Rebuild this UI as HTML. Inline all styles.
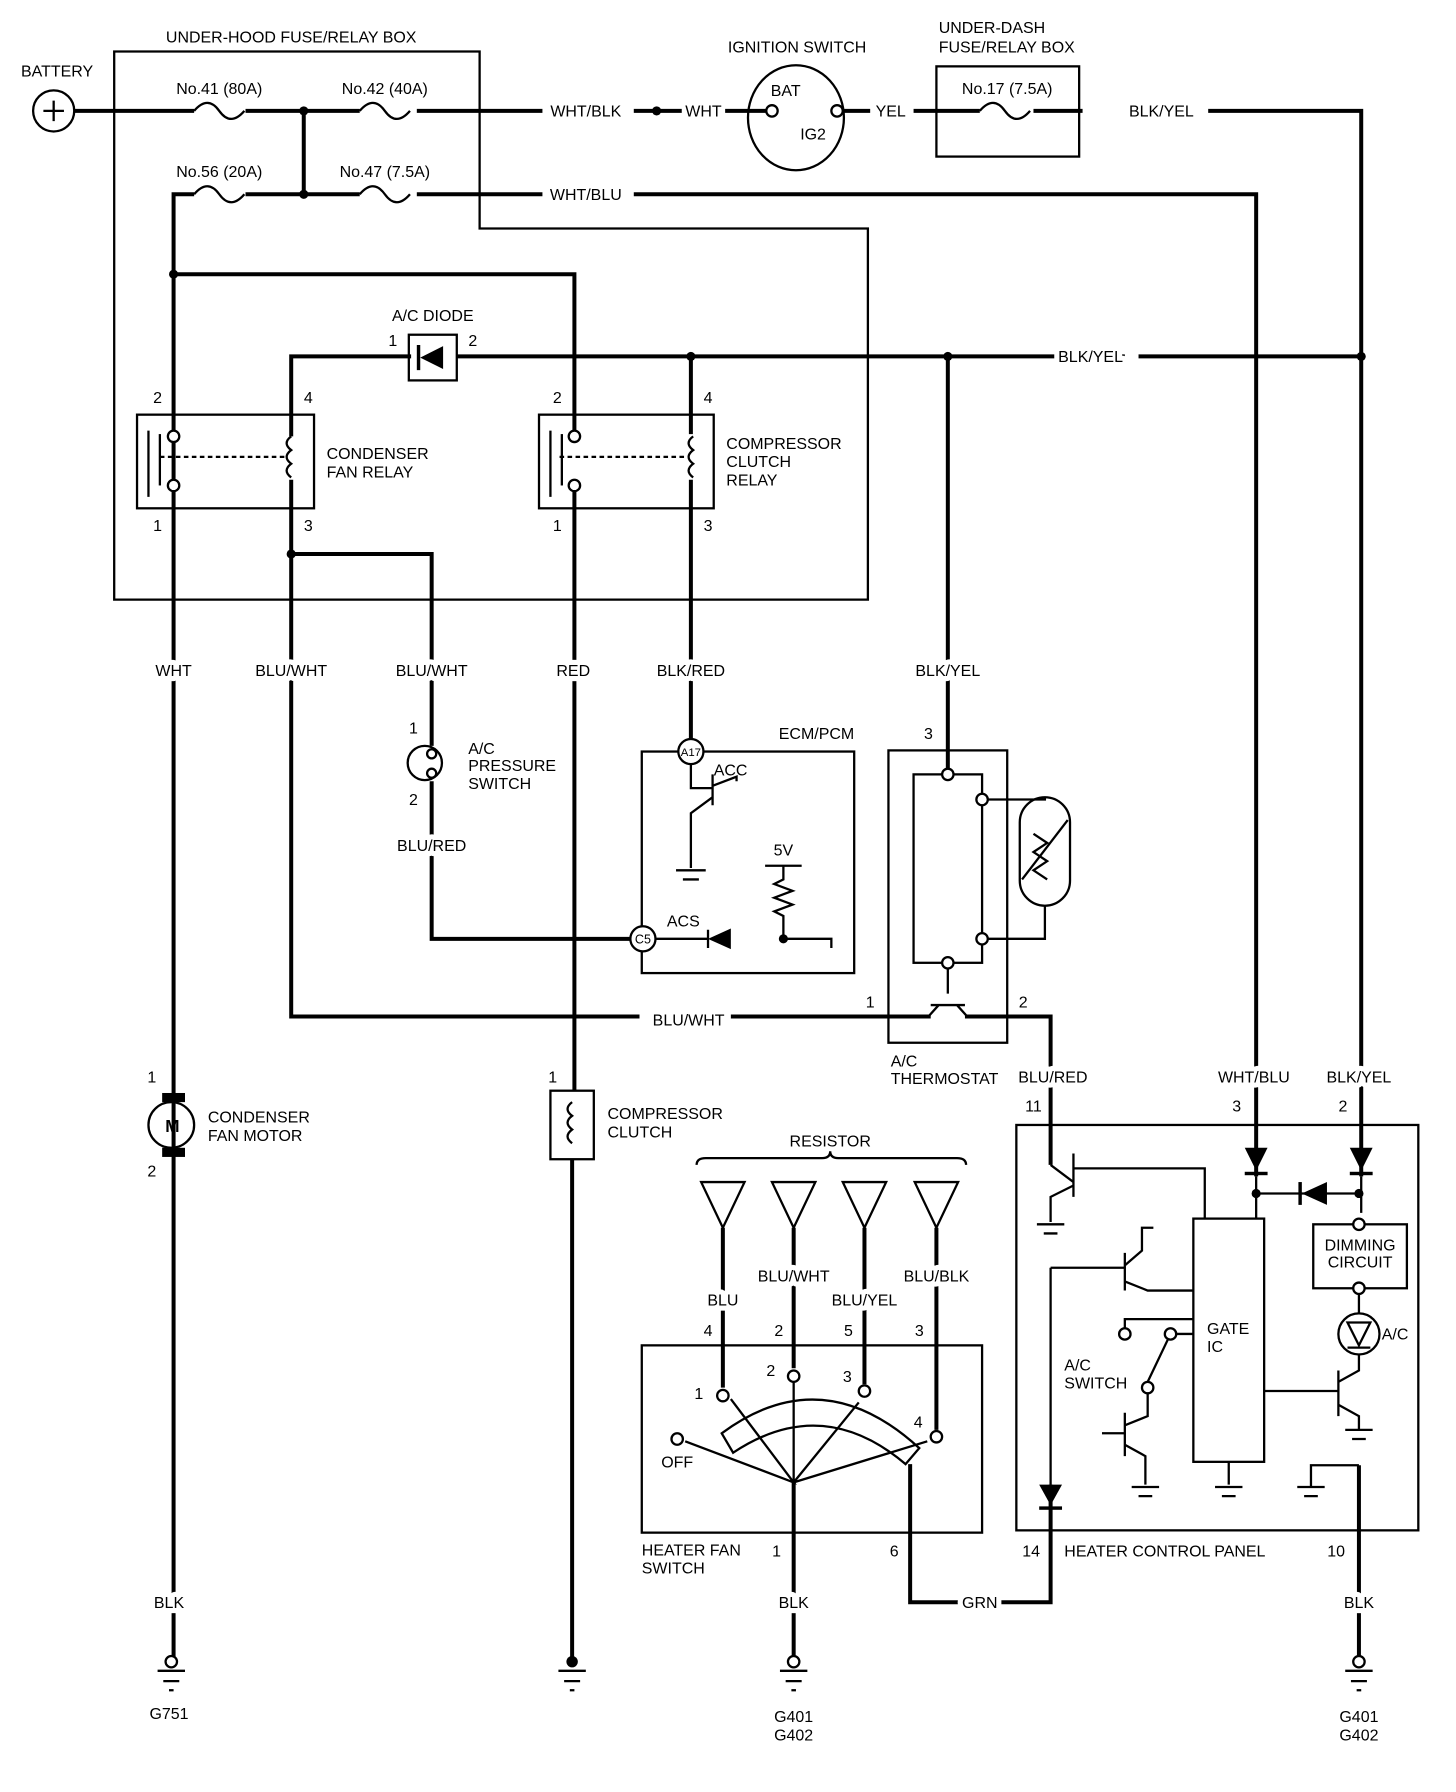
<!DOCTYPE html>
<html><head><meta charset="utf-8"><style>
html,body{margin:0;padding:0;background:#fff}
svg{display:block}
text{font-family:"Liberation Sans",sans-serif;font-size:14px;fill:#000}
.w{paint-order:stroke;stroke:#fff;stroke-width:9px;stroke-linejoin:round}
</style></head><body>
<svg width="1456" height="1792" viewBox="0 0 1275 1569" xmlns="http://www.w3.org/2000/svg">
<defs>
<g id="gnd"><line x1="-12" y1="8" x2="12" y2="8" stroke="#000" stroke-width="2"/><line x1="-7" y1="17" x2="7" y2="17" stroke="#000" stroke-width="2"/><line x1="-2" y1="25" x2="2" y2="25" stroke="#000" stroke-width="2"/></g>
</defs>
<g fill="none" stroke="#000" stroke-width="2">
<path d="M100 45 H420 V200 H760 V525 H100 Z"/>
<rect x="820" y="58" width="125" height="79"/>
<ellipse cx="697" cy="103" rx="42" ry="46"/>
<circle cx="47" cy="97" r="18"/>
<rect x="120" y="363" width="155" height="82"/>
<rect x="472" y="363" width="153" height="82"/>
<line x1="140" y1="400" x2="250" y2="400" stroke-dasharray="4 3"/>
<line x1="490" y1="400" x2="600" y2="400" stroke-dasharray="4 3"/>
<rect x="562" y="658" width="186" height="194"/>
<rect x="778" y="657" width="104" height="256"/>
<rect x="800" y="678" width="60" height="165"/>
<rect x="893" y="698" width="44" height="95" rx="22"/>
<rect x="562" y="1178" width="298" height="164"/>
<rect x="890" y="985" width="352" height="355"/>
<rect x="1045" y="1067" width="62" height="213"/>
<rect x="1150" y="1072" width="82" height="56"/>
<rect x="482" y="955" width="38" height="60"/>
</g>
<g fill="none" stroke="#000" stroke-width="3.5">
<path d="M65 97 H170 M215 97 H315 M365 97 H475"/>
<path d="M266 97 V170"/>
<path d="M152 1455 V170 H170 M215 170 H315 M365 170 H475"/>
<path d="M555 97 H597 M635 97 H676 M738 97 H762 M800 97 H858 M905 97 H948"/>
<path d="M1058 97 H1192 V1030"/>
<path d="M555 170 H1100 V1030"/>
<path d="M152 240 H503 V382"/>
<path d="M503 425 V955 M501 1015 V1455"/>
<path d="M255 382 V312 H360 M400 312 H985 M997 312 H1192"/>
<path d="M830 312 V678"/>
<path d="M605 312 V380 M605 420 V647"/>
<path d="M255 420 V890 H560 M640 890 H815"/>
<path d="M255 485 H378 V653 M378 684 V822 H552"/>
<path d="M845 890 H920 V1020"/>
<path d="M633 1075 V1215 M695 1075 V1198 M757 1075 V1212 M820 1075 V1252"/>
<path d="M695 1298 V1455"/>
<path d="M797 1282 V1403 H920 V1300"/>
<path d="M1190 1283 V1455"/>
</g>
<g fill="none" stroke="#000" stroke-width="2">
<path d="M170 97 q12 -14 22 0 t22 0 M315 97 q12 -14 22 0 t22 0 M170 170 q12 -14 22 0 t22 0 M315 170 q12 -14 22 0 t22 0 M858 97 q12 -14 22 0 t22 0"/>
<path d="M38 97 H56 M47 88 V106"/>
<line x1="130" y1="377" x2="130" y2="435"/>
<line x1="140" y1="380" x2="140" y2="425"/>
<line x1="482" y1="377" x2="482" y2="435"/>
<line x1="492" y1="380" x2="492" y2="425"/>
<path d="M255 382 q-8 6 0 12 q-8 6 0 12 q-8 6 0 12 M607 382 q-8 6 0 12 q-8 6 0 12 q-8 6 0 12"/>
<rect x="358" y="293" width="42" height="40"/>
<path d="M605 669 V690 H624 M624 678 V705 M624 688 L645 680 L645 684 M624 698 L605 712 V760"/>
<path d="M592 762 H618 M598 770 H612"/>
<path d="M686 758 V770 l-8 4 l16 6 l-16 6 l16 6 l-16 6 l8 4 V822 H728 V830 M670 758 H702"/>
<path d="M574 822 H620 M620 814 V830"/>
<path d="M860 700 H915 V698 M860 822 H915 V793"/>
<path d="M830 843 V870 M815 880 H845 M822 880 L813 890 M838 880 L847 890"/>
<path d="M895 770 L935 718"/>
<path d="M905 730 l12 8 l-12 8 l12 8 l-12 8 l12 8"/>
<circle cx="150" cy="985" r="20"/>
<path d="M501 965 q-8 6 0 12 q-8 6 0 12 q-8 6 0 12"/>
<path d="M610 1020 q0 -6 8 -6 H720 q7 0 7 -6 q0 6 7 6 H838 q8 0 8 6"/>
<path d="M614 1035 H652 L633 1075 Z M676 1035 H714 L695 1075 Z M738 1035 H776 L757 1075 Z M801 1035 H839 L820 1075 Z"/>
<path d="M600 1262 L695 1298 L640 1225 M695 1298 V1208 M695 1298 L752 1228 M695 1298 L812 1262"/>
<path d="M632 1255 Q720 1190 805 1268 L793 1282 Q720 1220 642 1272 Z"/>
<path d="M920 1020 L940 1035 M940 1010 V1048 M940 1023 H1055 V1067 M940 1038 L920 1048 V1070"/>
<path d="M908 1072 H932 M914 1080 H926"/>
<path d="M920 1110 H985 M985 1097 V1130 M985 1108 L1000 1095 V1075 L1010 1075 M985 1122 L1005 1130 H1045"/>
<path d="M985 1167 V1155 H1045 M1025 1168 L1005 1210 M1030 1168 H1045"/>
<path d="M1005 1220 V1240 L985 1248 M985 1237 V1275 M985 1255 H965 M985 1265 L1003 1275 V1300"/>
<path d="M991 1302 H1015 M997 1310 H1009"/>
<path d="M1076 1280 V1300 M1064 1302 H1088 M1070 1310 H1082"/>
<path d="M1107 1218 H1172 M1172 1200 V1240 M1172 1210 L1190 1200 V1186 M1172 1230 L1190 1240 V1252 M1178 1252 H1202 M1184 1260 H1196"/>
<path d="M1148 1302 V1283 H1190 M1136 1302 H1160 M1142 1310 H1154"/>
<path d="M1100 1030 V1067 M1192 1030 V1062 M1100 1045 H1192 M1190 1133 V1150"/>
<path d="M920 1110 V1300"/>
<circle cx="1190" cy="1168" r="18"/>
</g>
<use href="#gnd" x="150" y="1455"/><use href="#gnd" x="501" y="1455"/><use href="#gnd" x="695" y="1455"/><use href="#gnd" x="1190" y="1455"/>
<g fill="#000" stroke="none">
<circle cx="501" cy="1455" r="5"/>
<circle cx="575" cy="97" r="4"/><circle cx="266" cy="97" r="4"/><circle cx="266" cy="170" r="4"/>
<circle cx="152" cy="240" r="4"/><circle cx="605" cy="312" r="4"/><circle cx="830" cy="312" r="4"/><circle cx="1192" cy="312" r="4"/>
<circle cx="255" cy="485" r="4"/><circle cx="686" cy="822" r="4"/><circle cx="1100" cy="1045" r="4"/><circle cx="1190" cy="1045" r="4"/>
<rect x="142" y="957" width="20" height="8"/><rect x="142" y="1005" width="20" height="8"/>
<path d="M368 313 L388 303 V323 Z"/><rect x="365" y="302" width="3" height="22"/>
<path d="M620 822 L640 813 V831 Z"/>
<path d="M1090 1005 H1110 L1100 1025 Z"/><rect x="1090" y="1026" width="20" height="3"/>
<path d="M1182 1005 H1202 L1192 1025 Z"/><rect x="1182" y="1026" width="20" height="3"/>
<path d="M1140 1045 L1162 1035 V1055 Z"/><rect x="1137" y="1035" width="3" height="20"/>
<path d="M910 1300 H930 L920 1318 Z"/><rect x="910" y="1319" width="20" height="3"/>
</g>
<path d="M1180 1158 H1200 L1190 1178 Z M1180 1180 H1200" fill="none" stroke="#000" stroke-width="2"/>
<g class="w">
<text x="152" y="592" text-anchor="middle">WHT</text>
<text x="255" y="592" text-anchor="middle">BLU/WHT</text>
<text x="378" y="592" text-anchor="middle">BLU/WHT</text>
<text x="502" y="592" text-anchor="middle">RED</text>
<text x="605" y="592" text-anchor="middle">BLK/RED</text>
<text x="830" y="592" text-anchor="middle">BLK/YEL</text>
<text x="378" y="745" text-anchor="middle">BLU/RED</text>
<text x="955" y="317" text-anchor="middle">BLK/YEL</text>
<text x="922" y="948" text-anchor="middle">BLU/RED</text>
<text x="1098" y="948" text-anchor="middle">WHT/BLU</text>
<text x="1190" y="948" text-anchor="middle">BLK/YEL</text>
<text x="633" y="1143" text-anchor="middle">BLU</text>
<text x="695" y="1122" text-anchor="middle">BLU/WHT</text>
<text x="757" y="1143" text-anchor="middle">BLU/YEL</text>
<text x="820" y="1122" text-anchor="middle">BLU/BLK</text>
<text x="858" y="1408" text-anchor="middle">GRN</text>
<text x="148" y="1408" text-anchor="middle">BLK</text>
<text x="695" y="1408" text-anchor="middle">BLK</text>
<text x="1190" y="1408" text-anchor="middle">BLK</text>
</g>
<g fill="#fff" stroke="#000" stroke-width="2">
<circle cx="676" cy="97" r="5"/><circle cx="733" cy="97" r="5"/>
<circle cx="152" cy="382" r="5"/><circle cx="152" cy="425" r="5"/>
<circle cx="503" cy="382" r="5"/><circle cx="503" cy="425" r="5"/>
<circle cx="605" cy="658" r="11"/><circle cx="563" cy="822" r="11"/>
<circle cx="372" cy="668" r="15"/><circle cx="378" cy="660" r="4"/><circle cx="378" cy="677" r="4"/>
<circle cx="830" cy="678" r="5"/><circle cx="860" cy="700" r="5"/><circle cx="860" cy="822" r="5"/><circle cx="830" cy="843" r="5"/>
<circle cx="633" cy="1222" r="5"/><circle cx="695" cy="1205" r="5"/><circle cx="757" cy="1218" r="5"/><circle cx="820" cy="1258" r="5"/><circle cx="593" cy="1260" r="5"/>
<circle cx="985" cy="1168" r="5"/><circle cx="1025" cy="1168" r="5"/><circle cx="1005" cy="1215" r="5"/>
<circle cx="1190" cy="1072" r="5"/><circle cx="1190" cy="1128" r="5"/>
<circle cx="150" cy="1455" r="5"/><circle cx="695" cy="1455" r="5"/><circle cx="1190" cy="1455" r="5"/>
</g>
<g>
<text x="50" y="67" text-anchor="middle">BATTERY</text>
<text x="255" y="37" text-anchor="middle">UNDER-HOOD FUSE/RELAY BOX</text>
<text x="192" y="82" text-anchor="middle">No.41 (80A)</text>
<text x="337" y="82" text-anchor="middle">No.42 (40A)</text>
<text x="192" y="155" text-anchor="middle">No.56 (20A)</text>
<text x="337" y="155" text-anchor="middle">No.47 (7.5A)</text>
<text x="513" y="102" text-anchor="middle">WHT/BLK</text>
<text x="616" y="102" text-anchor="middle">WHT</text>
<text x="698" y="46" text-anchor="middle">IGNITION SWITCH</text>
<text x="688" y="84" text-anchor="middle">BAT</text>
<text x="712" y="122" text-anchor="middle">IG2</text>
<text x="780" y="102" text-anchor="middle">YEL</text>
<text x="822" y="29">UNDER-DASH</text>
<text x="822" y="46">FUSE/RELAY BOX</text>
<text x="882" y="82" text-anchor="middle">No.17 (7.5A)</text>
<text x="1017" y="102" text-anchor="middle">BLK/YEL</text>
<text x="513" y="175" text-anchor="middle">WHT/BLU</text>
<text x="379" y="281" text-anchor="middle">A/C DIODE</text>
<text x="344" y="303" text-anchor="middle">1</text><text x="414" y="303" text-anchor="middle">2</text>
<text x="138" y="353" text-anchor="middle">2</text><text x="270" y="353" text-anchor="middle">4</text>
<text x="138" y="465" text-anchor="middle">1</text><text x="270" y="465" text-anchor="middle">3</text>
<text x="488" y="353" text-anchor="middle">2</text><text x="620" y="353" text-anchor="middle">4</text>
<text x="488" y="465" text-anchor="middle">1</text><text x="620" y="465" text-anchor="middle">3</text>
<text x="286" y="402">CONDENSER</text><text x="286" y="418">FAN RELAY</text>
<text x="636" y="393">COMPRESSOR</text><text x="636" y="409">CLUTCH</text><text x="636" y="425">RELAY</text>
<text x="362" y="642" text-anchor="middle">1</text><text x="362" y="705" text-anchor="middle">2</text>
<text x="410" y="660">A/C</text><text x="410" y="675">PRESSURE</text><text x="410" y="691">SWITCH</text>
<text x="715" y="647" text-anchor="middle">ECM/PCM</text>
<text x="605" y="662" text-anchor="middle" style="font-size:10px">A17</text>
<text x="625" y="679">ACC</text>
<text x="686" y="749" text-anchor="middle">5V</text>
<text x="584" y="811">ACS</text>
<text x="563" y="826" text-anchor="middle" style="font-size:11px">C5</text>
<text x="813" y="647" text-anchor="middle">3</text>
<text x="762" y="882" text-anchor="middle">1</text><text x="896" y="882" text-anchor="middle">2</text>
<text x="603" y="898" text-anchor="middle">BLU/WHT</text>
<text x="780" y="934">A/C</text><text x="780" y="949">THERMOSTAT</text>
<text x="905" y="973" text-anchor="middle">11</text>
<text x="1083" y="973" text-anchor="middle">3</text><text x="1176" y="973" text-anchor="middle">2</text>
<text x="133" y="948" text-anchor="middle">1</text><text x="133" y="1030" text-anchor="middle">2</text>
<text x="151" y="991" text-anchor="middle" style="font-size:15px;font-weight:bold">M</text>
<text x="182" y="983">CONDENSER</text><text x="182" y="999">FAN MOTOR</text>
<text x="484" y="948" text-anchor="middle">1</text>
<text x="532" y="980">COMPRESSOR</text><text x="532" y="996">CLUTCH</text>
<text x="727" y="1004" text-anchor="middle">RESISTOR</text>
<text x="620" y="1170" text-anchor="middle">4</text><text x="682" y="1170" text-anchor="middle">2</text>
<text x="743" y="1170" text-anchor="middle">5</text><text x="805" y="1170" text-anchor="middle">3</text>
<text x="612" y="1225" text-anchor="middle">1</text><text x="675" y="1205" text-anchor="middle">2</text>
<text x="742" y="1210" text-anchor="middle">3</text><text x="804" y="1250" text-anchor="middle">4</text>
<text x="593" y="1285" text-anchor="middle">OFF</text>
<text x="562" y="1362">HEATER FAN</text><text x="562" y="1378">SWITCH</text>
<text x="680" y="1363" text-anchor="middle">1</text><text x="783" y="1363" text-anchor="middle">6</text>
<text x="903" y="1363" text-anchor="middle">14</text>
<text x="932" y="1363">HEATER CONTROL PANEL</text>
<text x="1170" y="1363" text-anchor="middle">10</text>
<text x="1057" y="1168">GATE</text><text x="1057" y="1184">IC</text>
<text x="932" y="1200">A/C</text><text x="932" y="1216">SWITCH</text>
<text x="1191" y="1095" text-anchor="middle">DIMMING</text><text x="1191" y="1110" text-anchor="middle">CIRCUIT</text>
<text x="1210" y="1173">A/C</text>
<text x="148" y="1505" text-anchor="middle">G751</text>
<text x="695" y="1508" text-anchor="middle">G401</text><text x="695" y="1524" text-anchor="middle">G402</text>
<text x="1190" y="1508" text-anchor="middle">G401</text><text x="1190" y="1524" text-anchor="middle">G402</text>
</g>
</svg>
</body></html>
